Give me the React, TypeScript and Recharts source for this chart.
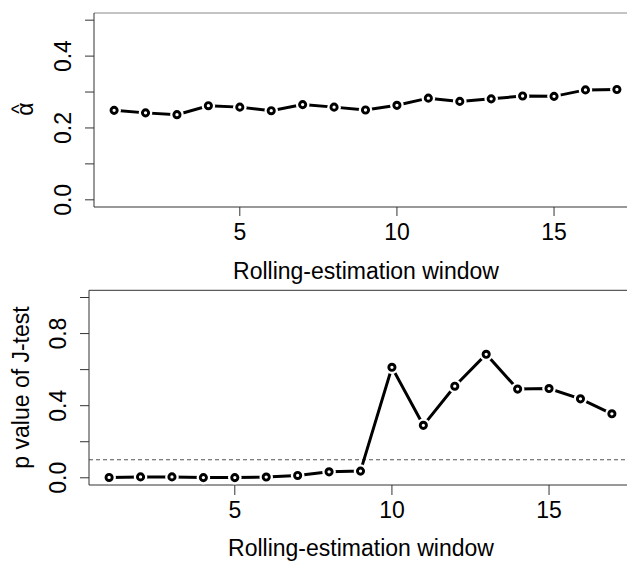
import React from 'react';
import { LineChart, Line, XAxis, YAxis, ReferenceLine } from 'recharts';

// rolling-estimation windows and the two estimated series
const windows = [1, 2, 3, 4, 5, 6, 7, 8, 9, 10, 11, 12, 13, 14, 15, 16, 17];
const alphaHat = [0.249, 0.242, 0.237, 0.262, 0.258, 0.248, 0.265, 0.258, 0.25, 0.263, 0.283, 0.274, 0.281, 0.289, 0.288, 0.306, 0.307];
const pValue = [0.002, 0.005, 0.005, 0.001, 0.001, 0.004, 0.013, 0.033, 0.037, 0.613, 0.291, 0.508, 0.685, 0.492, 0.495, 0.438, 0.355];

const xTicks = [5, 10, 15];
const alphaTicks = [0, 0.1, 0.2, 0.3, 0.4, 0.5];
const alphaLabels = [0, 0.2, 0.4];
const pTicks = [0, 0.2, 0.4, 0.6, 0.8, 1.0];
const pLabels = [0, 0.4, 0.8];
const cutoff = 0.1;

const alphaData = windows.map((w, i) => ({ w, v: alphaHat[i] }));
const pData = windows.map((w, i) => ({ w, v: pValue[i] }));

const FONT = '"Liberation Sans", Arial, sans-serif';
const FS = 23;
const AXIS = '#333';

// R's type="b": open circle with a small gap around it
const Dot = (props: any) => {
    const { cx, cy, index } = props;
    if (cx == null || cy == null) return null;
    return (
        <g key={`dot-${index}`}>
            <circle cx={cx} cy={cy} r={6.8} fill="#fff" stroke="none" />
            <circle cx={cx} cy={cy} r={3.1} fill="#fff" stroke="#000" strokeWidth={2.9} />
        </g>
    );
};

const makeYTick = (axisX: number, labels: number[]) => (props: any) => {
    const { y, payload } = props;
    if (!labels.some((l) => Math.abs(l - payload.value) < 1e-9)) return <g />;
    const bx = axisX - 23;
    return (
        <text x={bx} y={y} transform={`rotate(-90 ${bx} ${y})`} textAnchor="middle"
            fontFamily={FONT} fontSize={FS} fill="#000">
            {Number(payload.value).toFixed(1)}
        </text>
    );
};

const makeXTick = (axisY: number) => (props: any) => {
    const { x, payload } = props;
    return (
        <text x={x} y={axisY + 33} textAnchor="middle" fontFamily={FONT} fontSize={FS} fill="#000">
            {payload.value}
        </text>
    );
};

const xTitle = (cx: number, y: number) => () => (
    <text x={cx} y={y} textAnchor="middle" fontFamily={FONT} fontSize={FS} fill="#000">
        Rolling-estimation window
    </text>
);

const alphaTitle = () => (
    <g transform="translate(33 109) rotate(-90)">
        <text x={0} y={0} textAnchor="middle" fontFamily={FONT} fontSize={FS} fill="#000">α</text>
        <text x={0} y={-7.5} textAnchor="middle" fontFamily={FONT} fontSize={20} fill="#000">^</text>
    </g>
);

const pTitle = () => (
    <text x={28.5} y={102.5} transform="rotate(-90 28.5 102.5)" textAnchor="middle"
        fontFamily={FONT} fontSize={FS} fill="#000">
        p value of J-test
    </text>
);

export default function App() {
    return (
        <div style={{ position: 'absolute', left: 0, top: 0, width: 627, height: 561, overflow: 'hidden', background: '#fff' }}>
            <div style={{ position: 'absolute', left: 0, top: 0 }}>
                <LineChart width={660} height={285} data={alphaData} margin={{ top: 13, right: 23, bottom: 0, left: 0 }}>
                    <XAxis dataKey="w" type="number" domain={[0.36, 17.64]} ticks={xTicks} allowDataOverflow
                        height={78} tickSize={9} tickMargin={0} stroke={AXIS} tick={makeXTick(207)}
                        label={{ content: xTitle(366, 279) }} />
                    <YAxis type="number" domain={[-0.02, 0.52]} ticks={alphaTicks} allowDataOverflow
                        width={94} tickSize={9} tickMargin={0} stroke={AXIS} tick={makeYTick(94, alphaLabels)}
                        label={{ content: alphaTitle }} />
                    <ReferenceLine y={0.52} stroke="#888" strokeWidth={1} />
                    <Line dataKey="v" stroke="#000" strokeWidth={3} dot={Dot} activeDot={false} isAnimationActive={false} />
                </LineChart>
            </div>
            <div style={{ position: 'absolute', left: 0, top: 285 }}>
                <LineChart width={660} height={276} data={pData} margin={{ top: 5.3, right: 28, bottom: 0, left: 0 }}>
                    <XAxis dataKey="w" type="number" domain={[0.36, 17.64]} ticks={xTicks} allowDataOverflow
                        height={76} tickSize={10} tickMargin={0} stroke={AXIS} tick={makeXTick(200)}
                        label={{ content: xTitle(361, 271) }} />
                    <YAxis type="number" domain={[-0.04, 1.04]} ticks={pTicks} allowDataOverflow
                        width={89} tickSize={9} tickMargin={0} stroke={AXIS} tick={makeYTick(89, pLabels)}
                        label={{ content: pTitle }} />
                    <ReferenceLine y={1.04} stroke={AXIS} strokeWidth={1} />
                    <ReferenceLine y={cutoff} stroke="#555" strokeWidth={1} strokeDasharray="4 3" />
                    <Line dataKey="v" stroke="#000" strokeWidth={3} dot={Dot} activeDot={false} isAnimationActive={false} />
                </LineChart>
            </div>
        </div>
    );
}
